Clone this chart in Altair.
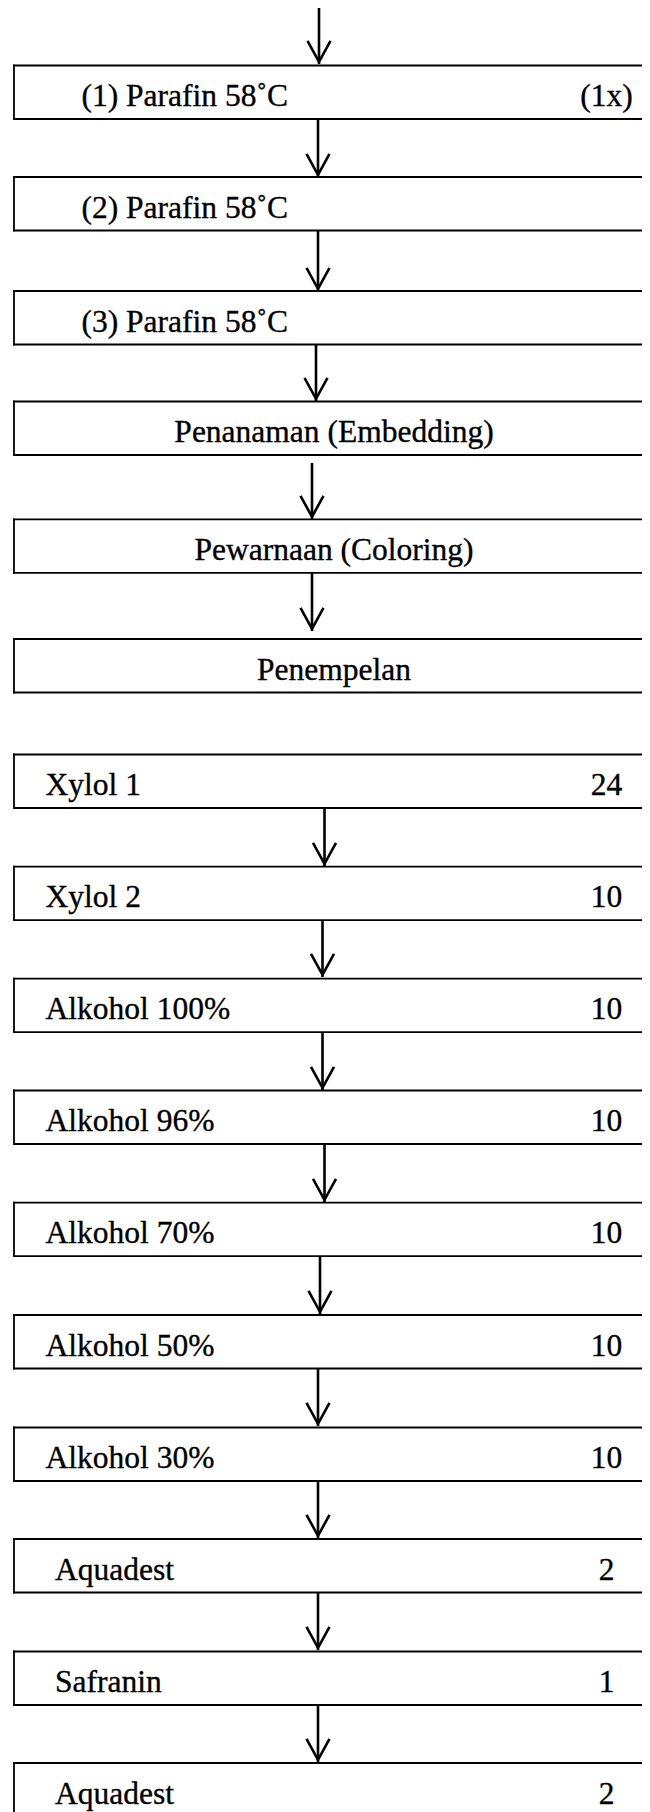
import altair as alt
import pandas as pd

# ---- content ----
labels = ["(1) Parafin 58˚C", "(2) Parafin 58˚C", "(3) Parafin 58˚C",
          "Penanaman (Embedding)", "Pewarnaan (Coloring)", "Penempelan",
          "Xylol 1", "Xylol 2", "Alkohol 100%", "Alkohol 96%", "Alkohol 70%",
          "Alkohol 50%", "Alkohol 30%", "Aquadest", "Safranin", "Aquadest"]
durations = ["(1x)", "", "", "", "", "", "24", "10", "10", "10", "10",
             "10", "10", "2", "1", "2"]
label_style = ["indent", "indent", "indent", "center", "center", "center",
               "left", "left", "left", "left", "left", "left", "left",
               "inset", "inset", "inset"]

# ---- layout (pixel-like units of the page) ----
box_top = [65.5, 177, 291, 401.5, 519.3, 639, 754.5, 866.7, 978.7, 1090.5,
           1202.7, 1315, 1427.5, 1539, 1651.5, 1763]
box_height = 53.5
box_left = 14
box_right = 660
label_x = {"indent": 81.5, "center": 334, "left": 45.5, "inset": 55}
value_x = 606.5
baseline_offset = 40.5

arrow_x = [319, 318, 318, 316, 312, 312, 324.5, 322.5, 322.5, 324.5, 320,
           318, 318, 318, 318]
arrow_y0 = [7, 119, 231, 345, 463, 573, 808, 921, 1033, 1145, 1257, 1369,
            1481, 1593, 1705]
arrow_y1 = [64, 177, 291, 401, 519, 631, 866, 977, 1090, 1202, 1314, 1426,
            1538, 1650, 1762]
head_half = 11.5
head_len = 21

# ---- tables ----
# box edges: top, bottom and left side (the right side runs off the page)
edge_rows = []
for t in box_top:
    b = t + box_height
    edge_rows.append({"x": box_left, "x2": box_right, "y": t, "y2": t})
    edge_rows.append({"x": box_left, "x2": box_right, "y": b, "y2": b})
    edge_rows.append({"x": box_left, "x2": box_left, "y": t, "y2": b})
edges = pd.DataFrame(edge_rows)

texts = pd.DataFrame({
    "label": labels,
    "style": label_style,
    "x": [label_x[s] for s in label_style],
    "y": [t + baseline_offset for t in box_top],
})
left_texts = texts[texts["style"] != "center"]
center_texts = texts[texts["style"] == "center"]

values = pd.DataFrame({
    "label": durations,
    "x": [value_x] * len(durations),
    "y": [t + baseline_offset for t in box_top],
})
values = values[values["label"] != ""]

shafts = pd.DataFrame({"x": arrow_x, "y": arrow_y0, "y2": arrow_y1})

head_rows = []
for i, (ax, tip) in enumerate(zip(arrow_x, arrow_y1)):
    t = tip - 2.2
    head_rows.append({"arrow": i, "k": 0, "x": ax - head_half, "y": t - head_len})
    head_rows.append({"arrow": i, "k": 1, "x": ax, "y": t})
    head_rows.append({"arrow": i, "k": 2, "x": ax + head_half, "y": t - head_len})
heads = pd.DataFrame(head_rows)

W, H = 634, 1804
xs = alt.Scale(domain=[8, 8 + W], nice=False, zero=False)
ys = alt.Scale(domain=[8, 8 + H], nice=False, zero=False, reverse=True)

edge_layer = alt.Chart(edges).mark_rule(
    color="black", strokeWidth=1.8, strokeCap="square"
).encode(
    x=alt.X("x:Q", scale=xs, axis=None), x2="x2:Q",
    y=alt.Y("y:Q", scale=ys, axis=None), y2="y2:Q",
)

shaft_layer = alt.Chart(shafts).mark_rule(
    color="black", strokeWidth=2.6
).encode(
    x=alt.X("x:Q", scale=xs, axis=None),
    y=alt.Y("y:Q", scale=ys, axis=None), y2="y2:Q",
)

head_layer = alt.Chart(heads).mark_line(
    color="black", strokeWidth=2.6, strokeJoin="miter", strokeCap="butt"
).encode(
    x=alt.X("x:Q", scale=xs, axis=None),
    y=alt.Y("y:Q", scale=ys, axis=None),
    detail="arrow:N",
    order="k:Q",
)

font = "Liberation Serif"
fs = 31.5
txt_style = dict(font=font, fontSize=fs, baseline="alphabetic", color="black",
                 stroke="black", strokeWidth=0.35)

left_layer = alt.Chart(left_texts).mark_text(align="left", **txt_style).encode(
    x=alt.X("x:Q", scale=xs, axis=None),
    y=alt.Y("y:Q", scale=ys, axis=None),
    text="label:N",
)

center_layer = alt.Chart(center_texts).mark_text(align="center", **txt_style).encode(
    x=alt.X("x:Q", scale=xs, axis=None),
    y=alt.Y("y:Q", scale=ys, axis=None),
    text="label:N",
)

value_layer = alt.Chart(values).mark_text(align="center", **txt_style).encode(
    x=alt.X("x:Q", scale=xs, axis=None),
    y=alt.Y("y:Q", scale=ys, axis=None),
    text="label:N",
)

chart = alt.layer(
    edge_layer, shaft_layer, head_layer, left_layer, center_layer, value_layer
).properties(
    width=W, height=H, padding=0,
    autosize=alt.AutoSizeParams(type="none"),
    background="white",
).configure_view(strokeWidth=0)

chart.save("out.html", embed_options={"renderer": "svg", "actions": False})
